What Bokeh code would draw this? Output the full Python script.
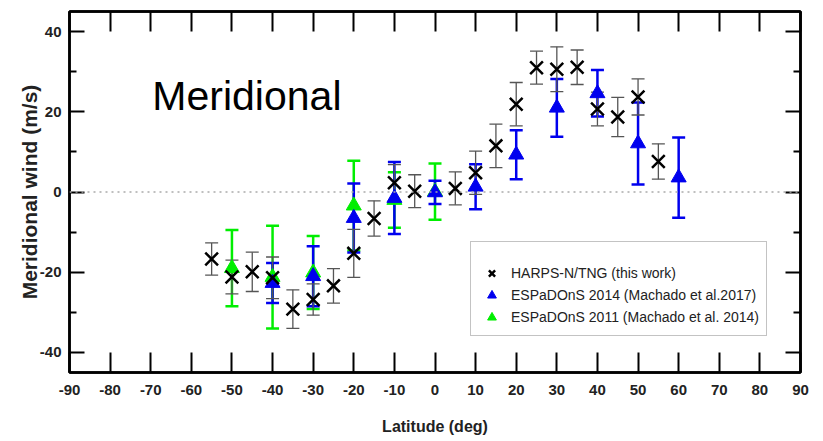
from bokeh.plotting import figure
from bokeh.models import (ColumnDataSource, Whisker, TeeHead, Span, Label, Legend,
                          LegendItem, LinearAxis, FixedTicker, Range1d, CustomLabelingPolicy)
from bokeh.embed import file_html
from bokeh.resources import INLINE

# ---------------- data ----------------
harps_lat = [-55, -50, -45, -40, -35, -30, -25, -20, -15, -10, -5, 5, 10, 15, 20, 25, 30, 35, 40, 45, 50, 55]
harps_wind = [-16.7, -21.2, -19.9, -21.4, -29.2, -26.8, -23.4, -15.3, -6.6, 2.3, 0.2, 0.9, 4.8, 11.5, 21.9, 31.0, 30.6, 31.1, 20.7, 18.7, 23.7, 7.6]
harps_err = [4.0, 4.2, 4.9, 5.2, 4.8, 3.9, 4.3, 6.0, 4.4, 4.5, 4.1, 4.1, 5.4, 5.4, 5.4, 4.1, 5.6, 4.3, 4.2, 4.9, 4.5, 4.4]

esp14_lat = [-40, -30, -20, -10, 0, 10, 20, 30, 40, 50, 60]
esp14_wind = [-22.7, -21.0, -6.5, -1.5, -0.1, 1.3, 9.3, 21.0, 24.6, 12.1, 3.6]
esp14_err = [5.0, 7.5, 8.6, 9.0, 2.9, 5.6, 6.1, 7.2, 5.8, 10.2, 10.0]

esp11_lat = [-50, -40, -30, -20, -10, 0]
esp11_wind = [-19.0, -21.2, -20.1, -3.4, -2.0, 0.1]
esp11_err = [9.5, 12.8, 9.1, 11.2, 6.9, 7.0]

x_ticks = list(range(-90, 91, 10))
y_major = [-40, -20, 0, 20, 40]
y_minor = [-30, -10, 10, 30]

labels = ["HARPS-N/TNG (this work)",
          "ESPaDOnS 2014 (Machado et al.2017)",
          "ESPaDOnS 2011 (Machado et al. 2014)"]

FONT = "Liberation Sans"


def src(lat, wind, err):
    return ColumnDataSource(dict(x=lat, y=wind,
                                 upper=[w + e for w, e in zip(wind, err)],
                                 lower=[w - e for w, e in zip(wind, err)]))


s_h = src(harps_lat, harps_wind, harps_err)
s_b = src(esp14_lat, esp14_wind, esp14_err)
s_g = src(esp11_lat, esp11_wind, esp11_err)

p = figure(width=823, height=441, x_range=Range1d(-90, 90), y_range=Range1d(-45, 45),
           output_backend="svg", toolbar_location=None,
           min_border_left=69, min_border_right=23, min_border_top=11, min_border_bottom=69)
p.xgrid.visible = False
p.ygrid.visible = False
p.outline_line_color = "black"
p.outline_line_width = 2.5
p.background_fill_color = "white"
p.border_fill_color = "white"

# bottom axis
xa = p.xaxis[0]
xa.ticker = FixedTicker(ticks=x_ticks)
xa.major_label_overrides = {t: str(t) for t in x_ticks}
xa.major_tick_in = 20
xa.major_tick_out = 0
xa.minor_tick_in = 0
xa.minor_tick_out = 0
xa.major_tick_line_width = 2
xa.axis_line_width = 2.5
xa.major_label_text_font = FONT
xa.major_label_text_font_style = "bold"
xa.major_label_text_font_size = "15px"
xa.major_label_text_color = "#222222"
xa.major_label_standoff = 12
xa.axis_label = "Latitude (deg)"
xa.axis_label_text_font = FONT
xa.axis_label_text_font_style = "bold"
xa.axis_label_text_font_size = "16px"
xa.axis_label_text_color = "#222222"
xa.axis_label_standoff = 20

# left axis
ya = p.yaxis[0]
ya.ticker = FixedTicker(ticks=y_major, minor_ticks=y_minor)
ya.major_label_overrides = {t: str(t) for t in y_major}
ya.major_tick_in = 15
ya.major_tick_out = 0
ya.minor_tick_in = 7
ya.minor_tick_out = 0
ya.major_tick_line_width = 2
ya.minor_tick_line_width = 2
ya.axis_line_width = 2.5
ya.major_label_text_font = FONT
ya.major_label_text_font_style = "bold"
ya.major_label_text_font_size = "15px"
ya.major_label_text_color = "#222222"
ya.major_label_standoff = 8
ya.axis_label = "Meridional wind (m/s)"
ya.axis_label_text_font = FONT
ya.axis_label_text_font_style = "bold"
ya.axis_label_text_font_size = "21px"
ya.axis_label_text_color = "#222222"
ya.axis_label_standoff = -4

# top and right axes (ticks only, no labels)
no_labels = "for (const i of Array.from(indices)) { indices.unset(i) } return indices"
top = LinearAxis(ticker=FixedTicker(ticks=x_ticks), major_tick_in=20, major_tick_out=0,
                 minor_tick_in=0, minor_tick_out=0, major_tick_line_width=2,
                 axis_line_width=2.5, major_label_standoff=0,
                 major_label_policy=CustomLabelingPolicy(code=no_labels))
p.add_layout(top, "above")
right = LinearAxis(ticker=FixedTicker(ticks=y_major, minor_ticks=y_minor), major_tick_in=15,
                   major_tick_out=0, minor_tick_in=7, minor_tick_out=0,
                   major_tick_line_width=2, minor_tick_line_width=2,
                   axis_line_width=2.5, major_label_standoff=0,
                   major_label_policy=CustomLabelingPolicy(code=no_labels))
p.add_layout(right, "right")

# zero line
p.add_layout(Span(location=0, dimension="width", line_color="#aaaaaa",
                  line_width=1.5, line_dash="2 4"))


def whisk(source, color, width, cap):
    w = Whisker(source=source, base="x", upper="upper", lower="lower",
                line_color=color, line_width=width,
                upper_head=TeeHead(size=cap, line_color=color, line_width=width),
                lower_head=TeeHead(size=cap, line_color=color, line_width=width))
    p.add_layout(w)


whisk(s_g, "#00ee00", 2.5, 13)
whisk(s_b, "#0000ee", 2.5, 13)
whisk(s_h, "#555555", 1.3, 13)

r_g = p.scatter("x", "y", source=s_g, marker="triangle", size=15,
                fill_color="#00ee00", line_color="#00ee00")
r_b = p.scatter("x", "y", source=s_b, marker="triangle", size=15,
                fill_color="#0000ee", line_color="#0000ee")
r_h = p.scatter("x", "y", source=s_h, marker="x", size=18,
                line_color="black", line_width=2.5)

p.add_layout(Label(x=-69.6, y=24.0, text="Meridional", text_font=FONT,
                   text_font_size="41px", text_color="black",
                   text_align="left", text_baseline="alphabetic"))

legend = Legend(items=[LegendItem(label=labels[0], renderers=[r_h]),
                       LegendItem(label=labels[1], renderers=[r_b]),
                       LegendItem(label=labels[2], renderers=[r_g])],
                location=(401, 36), orientation="vertical",
                title=" ", title_text_font_size="10px", title_standoff=2,
                padding=7, margin=0, spacing=0,
                glyph_width=27, glyph_height=22, label_height=22, label_standoff=6,
                label_text_font=FONT, label_text_font_size="14px",
                label_text_color="#222222",
                border_line_color="#888888", border_line_width=1.5,
                background_fill_color="white", background_fill_alpha=1.0)
p.add_layout(legend)

open("out.html", "w").write(file_html(p, INLINE))
